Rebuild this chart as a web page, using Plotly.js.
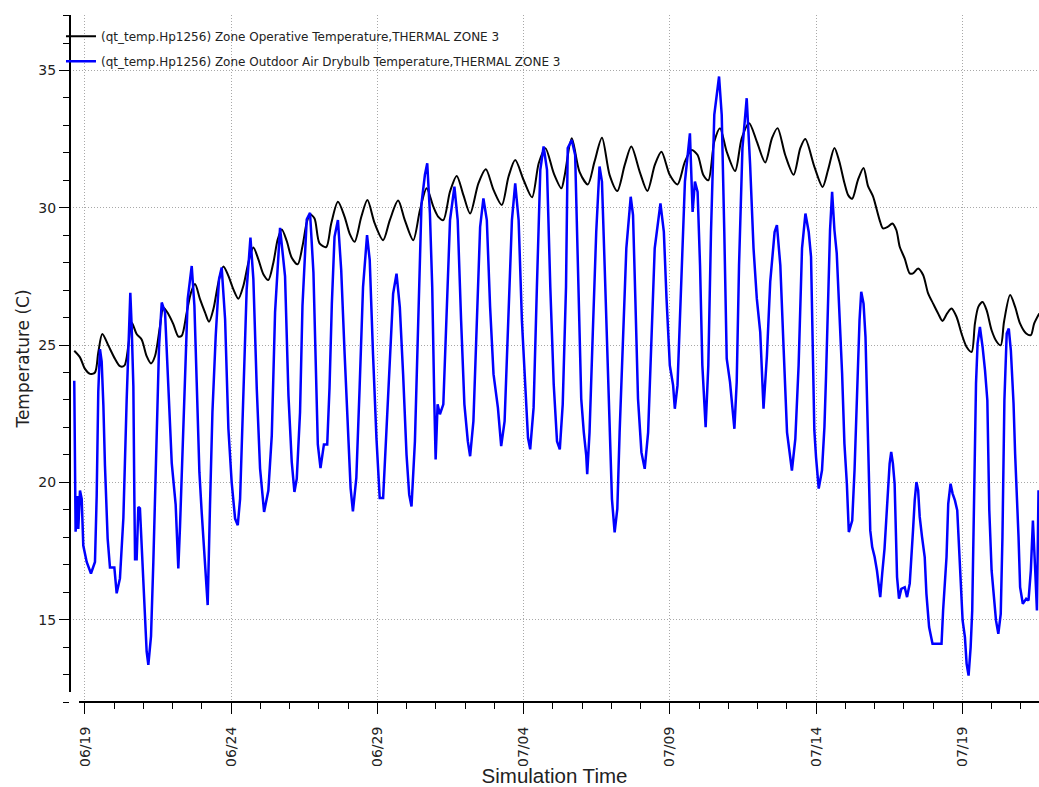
<!DOCTYPE html>
<html>
<head>
<meta charset="utf-8">
<script src="https://cdn.plot.ly/plotly-3.0.1.min.js"></script>
<style>html,body{margin:0;padding:0;background:#fff;}#chart{width:1039px;height:787px;}</style>
</head>
<body>
<div id="chart"></div>
<script>
// Hours since 2023-06-19 00:00 and temperatures (C)
const operativeHours = [-8.8,-4.1,0,4.1,8.2,10.9,14.2,19.2,24.6,28.7,32.3,35.6,38.3,42.4,46.5,50.6,54.2,57.5,61.6,64.3,68.4,72.5,76.6,79.4,83.5,87.0,90.3,94.4,98.5,101.8,105.4,109.5,113.6,117.7,121.8,125.9,130.0,134.1,138.2,142.3,146.4,150.5,154.6,158.2,161.5,165.6,169.7,174.6,178.5,182.0,184.7,188.4,192.5,198.0,202.1,207.6,213.1,217.2,221.3,226.8,231.8,237.8,244.7,250.2,257.0,262.5,269.4,274.9,280.4,285.9,290.0,294.1,299.6,305.1,310.6,316.1,322.9,329.0,335.3,342.1,347.6,353.1,360.0,366.9,372.4,377.9,384.7,391.0,393.5,399.5,405.9,412.7,418.2,424.3,430.6,436.9,443.0,448.4,455.3,461.6,467.7,473.1,480.0,486.3,492.4,497.9,502.8,507.5,511.6,516.5,521.2,526.7,533.6,539.0,545.1,551.4,558.3,563.8,568.4,574.7,581.6,587.1,591.2,598.6,605.4,610.0,615.1,619.0,623.3,626.5,629.7,634.3,639.0,642.6,646.7,652.2,654.9,659.0,662.6,665.9,668.7,672.8,676.9,679.6,683.8,687.9,692.0,696.1,700.2,703.8,707.6,711.2,715.3,719.4,723.6,727.7,730.4,733.2,736.7,740.0,744.1,748.3,751.6,754.3,759.3,763.4,767.5,772.5,776.3,779.0,783.2];
const operativeTemp = [24.79,24.55,24.13,23.95,24.0,24.73,25.4,24.98,24.5,24.23,24.25,24.98,25.82,25.4,25.2,24.6,24.33,24.6,25.7,26.37,26.13,25.76,25.31,25.34,26.19,26.91,27.22,26.67,26.19,25.85,26.31,27.28,27.86,27.52,27.03,26.69,27.16,28.0,28.55,28.12,27.58,27.37,28.0,28.85,29.21,28.79,28.18,27.94,28.6,29.46,29.76,29.61,28.7,28.57,29.43,30.22,29.67,29.06,28.76,29.67,30.28,29.43,28.82,29.55,30.26,29.55,28.82,29.91,30.71,30.04,29.67,29.55,30.59,31.16,30.46,29.79,30.89,31.4,30.65,30.1,31.13,31.74,31.01,30.38,31.62,32.17,31.26,30.71,31.13,32.53,31.31,30.85,31.68,32.55,31.19,30.61,31.56,32.23,31.31,30.61,31.56,32.04,31.19,30.85,31.68,32.1,31.92,31.19,31.0,32.41,32.9,32.04,31.34,32.53,33.08,32.41,31.65,32.53,32.9,31.92,31.2,32.17,32.5,31.5,30.76,31.4,32.18,31.7,30.9,30.45,30.33,31.0,31.45,30.8,30.42,29.55,29.25,29.31,29.43,29.19,28.58,28.15,27.61,27.61,27.79,27.55,26.88,26.51,26.15,25.88,26.15,26.33,26.03,25.42,24.93,24.75,25.78,26.39,26.57,26.27,25.54,25.12,24.99,25.85,26.82,26.39,25.78,25.42,25.36,25.78,26.15];

const outdoorHours = [-8.8,-8.3,-7.7,-6.0,-5.5,-4.1,-2.7,-1.4,1.4,4.9,8.2,9.6,10.9,12.3,13.7,15.1,16.4,18.6,20.5,24.1,26.0,28.7,31.5,34.2,36.1,37.2,38.3,39.7,40.5,41.1,42.4,43.8,45.1,46.5,48.7,50.6,52.0,54.2,56.1,57.5,58.8,60.8,63.0,65.7,68.4,71.2,74.4,76.6,78.0,79.9,82.1,84.3,87.6,89.8,91.7,93.9,95.8,98.5,100.7,102.6,104.6,107.3,110.0,112.2,115.0,117.7,120.4,123.2,125.4,127.3,130.0,132.7,135.8,138.2,141.0,143.7,147.0,150.5,153.3,156.0,160.1,164.2,167.0,169.7,171.9,173.8,176.5,178.5,182.0,184.7,187.5,189.8,191.1,193.3,196.1,198.8,200.7,202.6,204.8,207.6,210.3,213.1,215.8,218.0,219.9,222.7,225.4,228.2,231.5,233.7,236.4,239.2,241.9,244.7,247.4,250.2,252.9,255.7,258.4,261.1,263.9,266.1,268.0,270.8,273.5,276.2,279.0,280.9,283.1,285.0,286.7,287.8,289.4,291.3,294.1,296.8,299.6,303.2,305.9,308.7,311.4,314.2,316.1,318.8,321.6,324.3,327.0,329.8,332.5,335.3,338.9,341.6,344.4,347.1,350.4,353.1,355.9,358.6,361.3,363.6,365.4,368.2,370.9,373.7,376.4,379.2,381.9,384.7,387.4,389.7,392.1,394.8,396.2,399.5,402.3,404.5,405.9,407.3,409.4,411.4,412.2,414.1,416.8,419.6,422.3,424.3,426.5,428.6,430.6,432.5,434.7,436.9,438.8,441.6,444.3,447.9,449.8,451.7,453.9,456.7,459.4,462.2,464.9,467.6,472.3,475.1,477.3,480.0,482.7,484.1,486.3,489.1,492.4,496.5,498.7,500.6,502.8,504.8,506.7,509.4,511.6,513.8,516.5,520.4,522.6,524.7,526.7,529.4,533.0,534.9,536.8,539.6,543.1,545.9,548.7,551.4,554.2,556.9,559.7,562.4,566.0,567.9,570.7,573.4,576.2,580.2,583.0,585.7,588.5,591.3,594.0,595.9,597.3,597.8,598.6,600.0,602.2,604.9,606.9,608.2,609.6,611.5,613.2,615.1,617.0,619.2,621.4,623.3,625.3,626.9,629.7,631.6,633.0,634.3,635.7,637.1,639.0,640.6,641.7,643.4,644.5,646.1,648.1,650.0,651.6,652.7,654.3,656.2,657.6,659.0,660.4,661.7,663.1,664.5,665.4,666.5,668.1,670.0,672.8,674.7,676.9,678.3,679.6,681.0,682.4,683.8,685.1,687.0,689.2,690.6,692.8,695.6,703.0,704.3,705.7,707.1,708.5,710.4,712.1,714.0,715.9,717.3,718.7,720.3,722.2,723.6,725.2,726.9,728.2,729.1,729.6,730.4,731.3,732.6,734.5,736.7,738.7,740.6,742.2,744.1,746.1,747.7,749.6,751.6,753.0,753.8,754.6,756.5,758.2,759.9,762.1,763.4,764.8,766.2,767.5,769.7,772.5,774.4,776.3,778.0,779.9,781.3,782.6];
const outdoorTemp = [23.7,21.95,18.2,19.5,18.3,19.7,19.4,17.7,17.1,16.68,17.1,19.5,23.3,24.85,24.4,22.8,20.6,17.95,16.9,16.9,15.96,16.5,18.7,23.0,26.1,26.9,25.7,23.5,19.5,17.2,17.2,19.1,19.05,17.7,15.9,13.84,13.35,14.4,17.1,19.5,21.8,24.98,26.55,26.19,23.5,20.7,19.2,16.86,18.4,21.1,24.25,26.67,27.88,26.43,23.64,20.37,18.9,17.1,15.53,19.16,22.55,25.34,27.4,27.82,25.94,21.95,20.0,18.68,18.44,19.4,23.5,27.03,28.91,27.4,23.4,20.5,18.92,19.7,21.7,26.19,29.27,27.5,23.16,20.74,19.65,20.13,22.55,26.43,29.58,29.82,27.64,23.45,21.38,20.52,21.38,21.38,23.45,26.5,28.94,29.55,27.72,24.67,21.62,19.79,18.94,20.16,23.45,27.11,29.0,28.09,24.67,21.62,19.43,19.43,21.87,24.67,26.87,27.6,26.38,23.94,21.01,19.55,19.12,21.5,25.89,30.16,31.2,31.62,29.79,27.11,22.96,20.83,22.84,22.48,22.84,25.89,29.55,30.77,29.55,25.89,22.84,21.5,20.95,22.23,25.89,29.3,30.34,29.55,26.38,23.94,22.72,21.32,22.23,25.89,29.55,30.89,29.55,25.89,23.45,21.62,21.2,22.72,27.11,31.38,32.23,31.38,27.11,23.57,21.5,21.2,22.84,27.11,32.17,32.47,31.92,27.66,24.87,23.04,21.82,20.97,20.3,21.82,25.47,29.12,31.5,30.95,27.9,24.87,21.82,19.39,18.18,19.03,21.82,25.47,28.52,30.4,29.73,26.69,23.04,21.09,20.49,21.82,24.87,28.52,30.16,29.12,26.69,24.26,23.53,22.68,23.53,26.69,30.95,32.71,29.85,30.95,30.58,27.9,24.26,22.01,24.26,29.12,33.38,34.78,33.38,29.12,24.5,23.65,21.95,23.65,27.9,32.17,33.99,31.56,28.52,26.69,25.47,22.68,24.62,27.3,29.12,29.37,27.9,24.87,21.82,20.43,21.58,24.26,28.52,29.79,29.12,28.21,25.54,23.48,21.9,20.92,19.77,20.44,22.02,23.84,26.03,29.19,30.58,29.19,28.34,26.39,23.96,21.41,19.95,18.19,18.61,20.44,22.14,24.33,25.91,26.94,26.51,25.3,23.48,20.8,18.25,17.64,17.28,16.79,16.31,15.82,16.67,17.58,18.61,19.71,20.68,21.11,20.68,19.95,17.89,16.55,15.76,16.12,16.18,15.82,16.31,17.16,18.25,19.34,20.01,19.71,18.74,18.01,17.28,15.94,14.73,14.12,14.12,15.33,16.31,17.28,19.22,19.95,19.59,19.34,18.98,17.52,16.18,14.97,14.36,13.39,12.96,14.0,15.33,18.01,20.07,22.14,23.6,25.05,25.66,24.93,24.08,22.99,18.98,16.79,15.82,14.97,14.48,15.21,18.01,21.04,22.99,25.42,25.6,24.81,22.87,21.04,19.71,18.01,16.18,15.58,15.76,15.7,16.79,18.61,16.79,15.33,19.71];

const seriesNames = [
  "(qt_temp.Hp1256) Zone Operative Temperature,THERMAL ZONE 3",
  "(qt_temp.Hp1256) Zone Outdoor Air Drybulb Temperature,THERMAL ZONE 3"
];
const xRangeHours = [-12.3, 783.0];
const yRange = [12.0, 37.02];
const xTitle = "Simulation Time";
const yTitle = "Temperature (C)";

const base = Date.UTC(2023, 5, 19);
function toDate(h) {
  return new Date(base + h * 3600000).toISOString().replace('T', ' ').slice(0, 19);
}

const tickFont = {family: "DejaVu Sans", size: 14, color: "#222"};
const gridDash = "1px,2px";

const traces = [
  {x: operativeHours.map(toDate), y: operativeTemp, name: seriesNames[0], type: "scatter", mode: "lines",
   legendgroup: "a", line: {color: "#000000", width: 2, shape: "spline", smoothing: 0.8}},
  {x: outdoorHours.map(toDate), y: outdoorTemp, name: seriesNames[1], type: "scatter", mode: "lines",
   legendgroup: "b", line: {color: "#0000ff", width: 2.5}}
];

const layout = {
  width: 1039, height: 787,
  margin: {l: 70, r: 0, t: 15, b: 85, autoexpand: false},
  paper_bgcolor: "#fff", plot_bgcolor: "#fff",
  showlegend: true,
  hovermode: false,
  legend: {x: -0.0093, y: 0.990, xanchor: "left", yanchor: "top", bgcolor: "rgba(0,0,0,0)",
           borderwidth: 0, traceorder: "grouped", tracegroupgap: 6,
           font: {family: "DejaVu Sans", size: 12, color: "#222"}},
  xaxis: {
    type: "date", range: xRangeHours.map(toDate),
    tick0: "2023-06-19", dtick: 5 * 86400000, tickformat: "%m/%d", tickangle: -90,
    ticks: "outside", ticklen: 11, tickwidth: 1, tickcolor: "#000", ticklabelstandoff: 7,
    showgrid: true, gridcolor: "#a8a8a8", griddash: gridDash, gridwidth: 1,
    showline: false, zeroline: false,
    minor: {dtick: 86400000, ticks: "outside", ticklen: 6, tickwidth: 1, tickcolor: "#000", showgrid: false},
    tickfont: tickFont,
    title: {text: xTitle, font: {family: "Liberation Sans", size: 20.5, color: "#222"}, standoff: 1}
  },
  yaxis: {
    range: yRange, tick0: 0, dtick: 5,
    ticks: "outside", ticklen: 10, tickwidth: 1, tickcolor: "#000",
    showgrid: true, gridcolor: "#a8a8a8", griddash: gridDash, gridwidth: 1,
    showline: false, zeroline: false,
    minor: {dtick: 1, ticks: "outside", ticklen: 6, tickwidth: 1, tickcolor: "#000", showgrid: false},
    tickfont: tickFont,
    title: {text: yTitle, font: {family: "DejaVu Sans", size: 17, color: "#222"}, standoff: 4}
  },
  shapes: [
    {type: "line", xref: "paper", yref: "paper", x0: 0, x1: 0, y0: 0.01456, y1: 1, layer: "above",
     line: {color: "#000", width: 2}},
    {type: "line", xref: "paper", yref: "paper", x0: 0.0093, x1: 1, y0: 0, y1: 0, layer: "above",
     line: {color: "#000", width: 2}}
  ]
};

Plotly.newPlot("chart", traces, layout, {displayModeBar: false, staticPlot: true});
</script>
</body>
</html>
